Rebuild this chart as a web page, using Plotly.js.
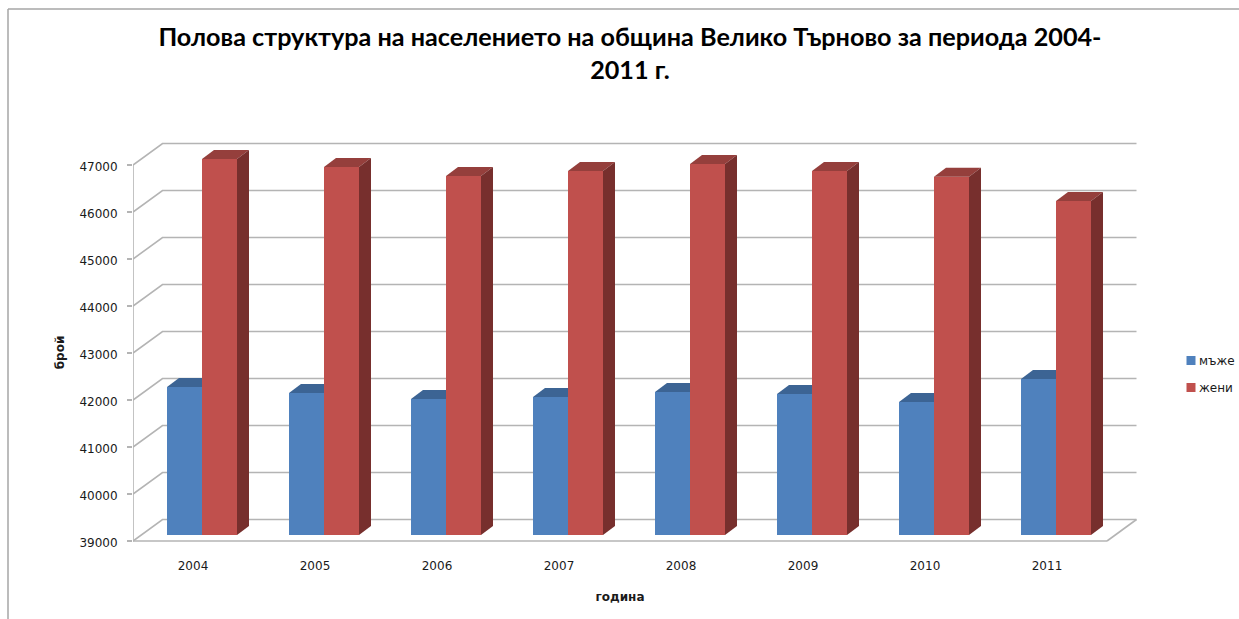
<!DOCTYPE html>
<html>
<head>
<meta charset="utf-8">
<script src="https://cdn.plot.ly/plotly-3.0.1.min.js"></script>
<style>html,body{margin:0;padding:0;background:#fff}#chart{width:1239px;height:619px}</style>
</head>
<body>
<div id="chart"></div>
<script>
const years = ['2004','2005','2006','2007','2008','2009','2010','2011'];
const men = [42150, 42020, 41895, 41935, 42045, 42000, 41830, 42320];
const women = [47000, 46830, 46640, 46745, 46895, 46745, 46620, 46105];
const valueTicks = [39000,40000,41000,42000,43000,44000,45000,46000,47000];
const menName = 'мъже';
const womenName = 'жени';
const titleText = 'Полова структура на населението на община Велико Търново за периода 2004-<br>2011 г.';
const yTitle = 'брой';
const xTitle = 'година';

const W = 1239, H = 619;
// Plot area, wide enough for the back wall; the labelled x axis stops at the front edge of the floor.
const plot = {l:133, r:1145, t:130, b:575};
const frontEdge = 1107;
const xAxisLine = 545;
const pxPerCat = 122, pxPerK = 47;
const gridColor = '#b4b4b4';
const frameColor = '#a6a6a6';
const textColor = '#1a1a1a';
const textFont = 'DejaVu Sans, sans-serif';

// Front plane of the box (axis labels live here)
const frontX0 = 193, frontY0 = 541;
// Plane in which the bars stand
const barX0 = 202, barY0 = 535;
// Full box depth and bar depth, in px
const boxDx = 29.5, boxDy = 21.5, barDx = 12, barDy = 9;

const xLabelRange = [(plot.l-frontX0)/pxPerCat, (frontEdge-frontX0)/pxPerCat];
const xFront = [(plot.l-frontX0)/pxPerCat, (plot.r-frontX0)/pxPerCat];
const yFront = [39000+(frontY0-plot.b)/pxPerK*1000, 39000+(frontY0-plot.t)/pxPerK*1000];
const xBar = [(plot.l-barX0)/pxPerCat, (plot.r-barX0)/pxPerCat];
const yBar = [39000, 39000+(barY0-plot.t)/pxPerK*1000];

const depthX = boxDx/pxPerCat, depthY = boxDy/pxPerK*1000;
const ddx = barDx/pxPerCat, ddy = barDy/pxPerK*1000;
const floorL = xLabelRange[0], floorR = xLabelRange[1];

// walls & floor: lowest subplot, behind the bars
const gx = [], gy = [];
valueTicks.forEach(v => {
  gx.push(floorL, floorL+depthX, floorR+depthX, null);
  gy.push(v, v+depthY, v+depthY, null);
});
gx.push(floorL, floorL, null, floorR, floorR+depthX, null);
gy.push(39000, 47000, null, 39000, 39000+depthY, null);

const wall = {type:'scatter', mode:'lines', x:gx, y:gy, xaxis:'x', yaxis:'y',
  line:{color:gridColor, width:1.6}, showlegend:false, hoverinfo:'skip', connectgaps:false};
// front edge of the floor, on the labelled axis
const floorFront = {type:'scatter', mode:'lines', x:[floorL, floorR], y:[39000, 39000], xaxis:'x3', yaxis:'y',
  line:{color:gridColor, width:1.6}, showlegend:false, hoverinfo:'skip'};

const halfBar = 35/pxPerCat;
function poly(pts, color){
  return {type:'scatter', mode:'lines', fill:'toself', fillcolor:color,
    x:pts.map(p=>p[0]), y:pts.map(p=>p[1]), xaxis:'x2', yaxis:'y2',
    line:{width:0, color:color}, showlegend:false, hoverinfo:'skip'};
}
const faces = [];
years.forEach((_, i) => {
  const m = men[i], w = women[i];
  faces.push(poly([[i-halfBar,m],[i-halfBar+ddx,m+ddy],[i,m+ddy],[i,m]], '#3c6494'));
  faces.push(poly([[i,w],[i+ddx,w+ddy],[i+halfBar+ddx,w+ddy],[i+halfBar,w]], '#953f3c'));
  faces.push(poly([[i+halfBar,39000],[i+halfBar,w],[i+halfBar+ddx,w+ddy],[i+halfBar+ddx,39000+ddy]], '#772f2d'));
});

const idx = years.map((_, i) => i);
const barMen = {type:'bar', name:menName, x:idx, y:men, xaxis:'x2', yaxis:'y2',
  marker:{color:'#4f81bd', line:{width:0}}, legendgroup:'a'};
const barWomen = {type:'bar', name:womenName, x:idx, y:women, xaxis:'x2', yaxis:'y2',
  marker:{color:'#c0504d', line:{width:0}}, legendgroup:'b'};

const plotH = plot.b-plot.t, plotW = plot.r-plot.l;
const fx = px => (px-plot.l)/plotW, fy = py => (plot.b-py)/plotH;
const layout = {
  width:W, height:H,
  paper_bgcolor:'#ffffff', plot_bgcolor:'rgba(0,0,0,0)',
  margin:{l:plot.l, r:W-plot.r, t:plot.t, b:H-plot.b, pad:0},
  showlegend:true,
  barmode:'group', bargap:1-70/pxPerCat, bargroupgap:0,
  title:{text:titleText, xref:'paper', x:fx(630), xanchor:'center', yref:'container', y:1-46/H, yanchor:'top',
    font:{family:'Lato, sans-serif', size:25.2, color:'#000', weight:700}},
  font:{family:textFont, size:12, color:textColor},
  xaxis:{domain:[0,1], range:xFront, anchor:'y', visible:false, fixedrange:true},
  xaxis3:{domain:[0,fx(frontEdge)], range:xLabelRange, anchor:'free', position:fy(xAxisLine),
    tickmode:'array', tickvals:idx, ticktext:years,
    showgrid:false, zeroline:false, showline:false, ticks:'', ticklabelstandoff:12,
    tickfont:{family:textFont, size:12, color:textColor},
    title:{text:xTitle, standoff:20, font:{family:textFont, size:12, color:textColor, weight:700}}},
  yaxis:{domain:[0,1], range:yFront, anchor:'x', tickmode:'array', tickvals:valueTicks, ticktext:valueTicks.map(String),
    showgrid:false, zeroline:false, showline:false, ticks:'outside', ticklen:5, tickcolor:gridColor, tickwidth:1.4,
    ticklabelstandoff:7, ticklabelshift:2,
    tickfont:{family:textFont, size:12, color:textColor},
    title:{text:yTitle, standoff:12, font:{family:textFont, size:12, color:textColor, weight:700}}},
  xaxis2:{domain:[0,1], range:xBar, anchor:'y2', visible:false, fixedrange:true},
  yaxis2:{domain:[fy(barY0),1], range:yBar, anchor:'x2', visible:false, fixedrange:true},
  legend:{xref:'container', yref:'container', x:1159/W, y:1-346/H, xanchor:'left', yanchor:'top',
    bgcolor:'rgba(0,0,0,0)', borderwidth:0, tracegroupgap:8, itemwidth:30,
    font:{family:textFont, size:12, color:textColor}},
  shapes:[
    {type:'line', xref:'paper', yref:'paper', x0:fx(8), x1:fx(8), y0:fy(H), y1:fy(9),
     line:{color:frameColor, width:1.5}},
    {type:'line', xref:'paper', yref:'paper', x0:fx(8), x1:fx(W), y0:fy(9), y1:fy(9),
     line:{color:frameColor, width:1.5}}
  ]
};

Plotly.newPlot('chart', [wall, floorFront, barMen, barWomen, ...faces], layout, {displayModeBar:false, staticPlot:true})
  .then(gd => {
    // Tighten the legend key next to its label, as in the original
    gd.querySelectorAll('.legend .legendsymbols').forEach(g => {
      g.setAttribute('transform', 'translate(17,0) scale(0.75)');
    });
  });
</script>
</body>
</html>
